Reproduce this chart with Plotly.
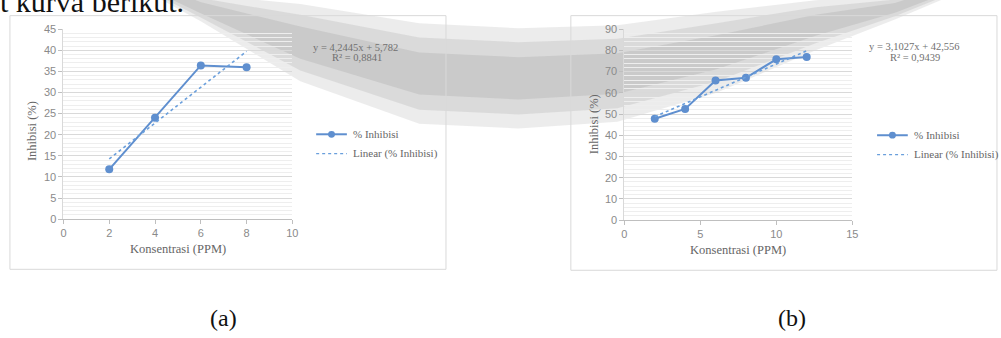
import plotly.graph_objects as go

W, H = 1001, 338

# ---- data: panel (a)
conc_a = [2, 4, 6, 8]
inhib_a = [11.8, 24.0, 36.4, 36.0]
slope_a, intercept_a, r2_a = 4.2445, 5.782, 0.8841

# ---- data: panel (b)
conc_b = [2, 4, 6, 8, 10, 12]
inhib_b = [47.8, 52.4, 65.8, 67.1, 75.8, 76.9]
slope_b, intercept_b, r2_b = 3.1027, 42.556, 0.9439

LINE_BLUE = "#5f8fcf"
TREND_BLUE = "#6a9fdc"
SERIF = "Liberation Serif"
SANS = "Liberation Sans"


def px(x):
    return x / W


def py(y):
    return 1 - y / H


def fmt(v, nd):
    return f"{v:.{nd}f}".replace(".", ",")


def note(text, x, y, size, color, xanchor="center", yanchor="middle", **kw):
    return dict(text=text, x=px(x), y=py(y), xref="paper", yref="paper",
                xanchor=xanchor, yanchor=yanchor, showarrow=False,
                font=dict(family=SERIF, size=size, color=color), **kw)


fig = go.Figure()

panels = [
    dict(x=conc_a, y=inhib_a, m=slope_a, c=intercept_a, r2=r2_a, ax="x", ay="y"),
    dict(x=conc_b, y=inhib_b, m=slope_b, c=intercept_b, r2=r2_b, ax="x2", ay="y2"),
]

for p in panels:
    fig.add_trace(go.Scatter(
        x=p["x"], y=p["y"], mode="lines+markers", xaxis=p["ax"], yaxis=p["ay"],
        line=dict(color=LINE_BLUE, width=2), marker=dict(size=8, color=LINE_BLUE),
        showlegend=False, hoverinfo="skip"))
    xs = [min(p["x"]), max(p["x"])]
    fig.add_trace(go.Scatter(
        x=xs, y=[p["m"] * v + p["c"] for v in xs], mode="lines",
        xaxis=p["ax"], yaxis=p["ay"],
        line=dict(color=TREND_BLUE, width=1.6, dash="dot"),
        showlegend=False, hoverinfo="skip"))

axis_common = dict(
    showline=True, linewidth=1, ticks="outside", ticklen=4, tickwidth=1,
    tickfont=dict(family=SANS, size=11, color="#8a8a8a"),
    zeroline=False, fixedrange=True,
)

fig.update_layout(
    width=W, height=H, margin=dict(l=0, r=0, t=0, b=0),
    paper_bgcolor="white", plot_bgcolor="rgba(0,0,0,0)",
    xaxis=dict(domain=[px(61), px(292)], range=[0, 10], dtick=2, anchor="y",
               showgrid=False, linecolor="#bfbfbf", tickcolor="#bfbfbf", **axis_common),
    yaxis=dict(domain=[py(221), py(24)], range=[0, 45], dtick=5, anchor="x",
               showgrid=True, gridcolor="#d9d9d9", linecolor="#d9d9d9", tickcolor="#bfbfbf",
               minor=dict(dtick=1, showgrid=True, gridcolor="#eeeeee"), **axis_common),
    xaxis2=dict(domain=[px(627), px(857)], range=[0, 15], dtick=5, anchor="y2",
                showgrid=False, linecolor="#bfbfbf", tickcolor="#bfbfbf", **axis_common),
    yaxis2=dict(domain=[py(222), py(24)], range=[0, 90], dtick=10, anchor="x2",
                showgrid=True, gridcolor="#d9d9d9", linecolor="#d9d9d9", tickcolor="#bfbfbf",
                minor=dict(dtick=2, showgrid=True, gridcolor="#eeeeee"), **axis_common),
)

shapes = []
annotations = []

# faint grey watermark band behind the charts
center = [(150, -20), (200, 2), (300, 38), (420, 70), (520, 75), (620, 70),
          (720, 48), (820, 20), (900, 2), (960, -20)]
halfw = [8, 14, 40, 52, 52, 50, 42, 26, 12, 8]
for scale, op in [(1.0, 0.14), (0.72, 0.15), (0.42, 0.17)]:
    top = [(x, y - h * scale) for (x, y), h in zip(center, halfw)]
    bot = [(x, y + h * scale) for (x, y), h in zip(center, halfw)]
    pts = top + bot[::-1]
    path = "M " + " L ".join(f"{px(x)},{py(y)}" for x, y in pts) + " Z"
    shapes.append(dict(type="path", path=path, xref="paper", yref="paper",
                       fillcolor="#7a7a7a", opacity=op, line=dict(width=0), layer="below"))

# chart frames
for x0, x1, y0, y1 in [(7, 447, 10, 273), (573, 1003, 10, 274)]:
    shapes.append(dict(type="rect", xref="paper", yref="paper",
                       x0=px(x0), x1=px(x1), y0=py(y1), y1=py(y0),
                       line=dict(color="#d9d9d9", width=1), layer="above"))

# per-panel text: axis titles, equation, legend
panel_layout = [
    dict(p=panels[0], xt=(177, 252), yt=(30, 130), eq=(311, 43), r2=(330, 53), lg=(316, 133)),
    dict(p=panels[1], xt=(742, 253), yt=(596, 123), eq=(872, 42), r2=(893, 53), lg=(882, 134)),
]
for L in panel_layout:
    p = L["p"]
    annotations.append(note("Konsentrasi (PPM)", *L["xt"], 12.5, "#666666"))
    annotations.append(note("Inhibisi (%)", *L["yt"], 12.5, "#666666", textangle=-90))
    annotations.append(note(f"y = {fmt(p['m'], 4)}x + {fmt(p['c'], 3)}", *L["eq"],
                            10.5, "#707070", xanchor="left"))
    annotations.append(note(f"R² = {fmt(p['r2'], 4)}", *L["r2"], 10.5, "#707070",
                            xanchor="left"))
    lx, ly = L["lg"]
    shapes.append(dict(type="line", xref="paper", yref="paper",
                       x0=px(lx), x1=px(lx + 31), y0=py(ly), y1=py(ly),
                       line=dict(color=LINE_BLUE, width=2)))
    shapes.append(dict(type="circle", xref="paper", yref="paper",
                       x0=px(lx + 12), x1=px(lx + 19), y0=py(ly + 3.5), y1=py(ly - 3.5),
                       fillcolor=LINE_BLUE, line=dict(color=LINE_BLUE, width=0)))
    shapes.append(dict(type="line", xref="paper", yref="paper",
                       x0=px(lx), x1=px(lx + 31), y0=py(ly + 20), y1=py(ly + 20),
                       line=dict(color=TREND_BLUE, width=1.3, dash="dot")))
    for txt, dy in [("% Inhibisi", 0), ("Linear (% Inhibisi)", 20)]:
        annotations.append(note(txt, lx + 35, ly + dy, 11, "#666666", xanchor="left"))

# surrounding document text (its top runs off the page edge)
annotations.append(note("t kurva berikut.", -5, 15, 30, "#111111",
                        xanchor="left", yanchor="bottom"))
for txt, x in [("(a)", 222), ("(b)", 796)]:
    annotations.append(note(txt, x, 323, 24, "#111111"))

fig.update_layout(shapes=shapes, annotations=annotations)
fig.write_html("out.html")
